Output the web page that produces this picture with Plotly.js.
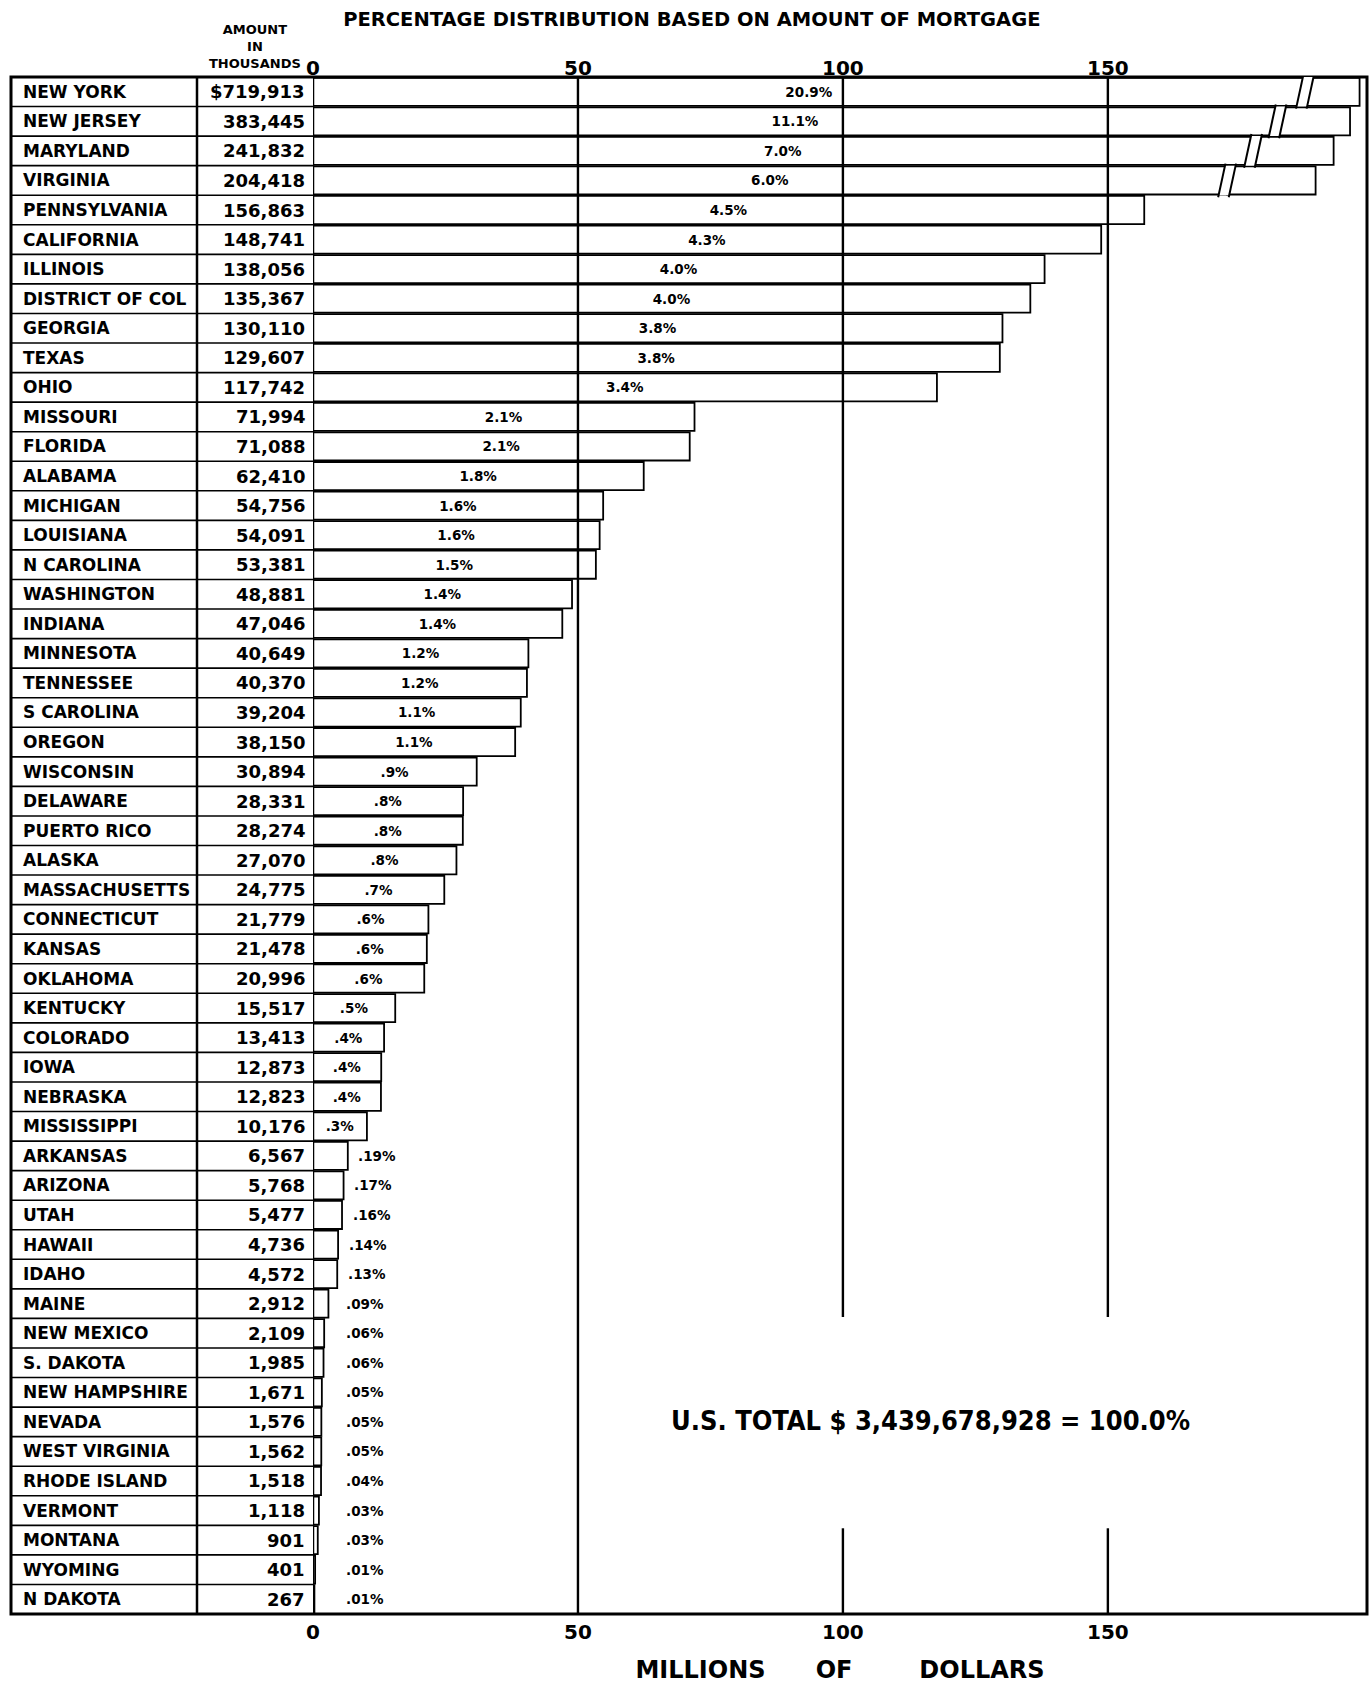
<!DOCTYPE html>
<html><head><meta charset="utf-8">
<script src="https://cdn.plot.ly/plotly-3.0.1.min.js"></script>
<style>html,body{margin:0;padding:0;background:#fff}</style>
</head><body><div id="chart" style="width:1370px;height:1687px"></div>
<script>
// ---------------- DATA ----------------
const states = ["NEW YORK","NEW JERSEY","MARYLAND","VIRGINIA","PENNSYLVANIA","CALIFORNIA","ILLINOIS","DISTRICT OF COL","GEORGIA","TEXAS","OHIO","MISSOURI","FLORIDA","ALABAMA","MICHIGAN","LOUISIANA","N CAROLINA","WASHINGTON","INDIANA","MINNESOTA","TENNESSEE","S CAROLINA","OREGON","WISCONSIN","DELAWARE","PUERTO RICO","ALASKA","MASSACHUSETTS","CONNECTICUT","KANSAS","OKLAHOMA","KENTUCKY","COLORADO","IOWA","NEBRASKA","MISSISSIPPI","ARKANSAS","ARIZONA","UTAH","HAWAII","IDAHO","MAINE","NEW MEXICO","S. DAKOTA","NEW HAMPSHIRE","NEVADA","WEST VIRGINIA","RHODE ISLAND","VERMONT","MONTANA","WYOMING","N DAKOTA"];
const amountsThousands = [719913,383445,241832,204418,156863,148741,138056,135367,130110,129607,117742,71994,71088,62410,54756,54091,53381,48881,47046,40649,40370,39204,38150,30894,28331,28274,27070,24775,21779,21478,20996,15517,13413,12873,12823,10176,6567,5768,5477,4736,4572,2912,2109,1985,1671,1576,1562,1518,1118,901,401,267];
const percentLabels = ["20.9%","11.1%","7.0%","6.0%","4.5%","4.3%","4.0%","4.0%","3.8%","3.8%","3.4%","2.1%","2.1%","1.8%","1.6%","1.6%","1.5%","1.4%","1.4%","1.2%","1.2%","1.1%","1.1%",".9%",".8%",".8%",".8%",".7%",".6%",".6%",".6%",".5%",".4%",".4%",".4%",".3%",".19%",".17%",".16%",".14%",".13%",".09%",".06%",".06%",".05%",".05%",".05%",".04%",".03%",".03%",".01%",".01%"];
const axisTicks = [0, 50, 100, 150];
const chartTitle = "PERCENTAGE DISTRIBUTION BASED ON AMOUNT OF MORTGAGE";
const columnHeader = "AMOUNT<br>IN<br>THOUSANDS";
const axisTitle = "MILLIONS\u00a0\u00a0\u00a0\u00a0\u00a0\u00a0OF\u00a0\u00a0\u00a0\u00a0\u00a0\u00a0\u00a0\u00a0DOLLARS";
const totalText = "U.S. TOTAL $ 3,439,678,928 = 100.0%";

// ------------- LAYOUT CONSTANTS (off-scale bar drawing) -------------
const brokenBreakAt = [186.2, 181.0, 176.4, 171.5];   // where the break marks sit
const brokenDrawEnd = [197.5, 195.7, 192.6, 189.2];   // where the truncated bar is drawn to
const XMAX = 198.9;
const GAP = 2.0, SLANT = 0.6;
const gridGap = [41.45, 48.6];   // 100 and 150 lines interrupted around total text

const FONT = '"DejaVu Sans", "Liberation Sans", sans-serif';
const COND = '"DejaVu Sans Condensed", "Liberation Sans Narrow", "DejaVu Sans", sans-serif';

const n = states.length;
const idx = states.map((_, i) => i);
const millions = amountsThousands.map(v => v / 1000);
const nBroken = brokenBreakAt.length;
const splitAt = brokenBreakAt.map(b => b + GAP / 2);
const segA = millions.map((v, i) => i < nBroken ? splitAt[i] : v);
const isInside = millions.map(v => v > 8);
const insideText = percentLabels.map((t, i) => isInside[i] ? t : '');
const amountText = amountsThousands.map((v, i) => (i === 0 ? '$' : '') + v.toLocaleString('en-US'));

const barLine = {color: '#000', width: 1.8};
const pctFont = {family: FONT, size: 13.5, color: '#000', weight: 700};
const traces = [
  {
    type: 'bar', orientation: 'h', y: idx, x: segA,
    text: insideText, textposition: 'inside', insidetextanchor: 'middle',
    constraintext: 'none', textangle: 0,
    textfont: pctFont,
    marker: {color: '#fff', line: barLine},
    hoverinfo: 'skip', showlegend: false, cliponaxis: false
  },
  {
    type: 'bar', orientation: 'h', y: idx.slice(0, nBroken),
    base: splitAt, x: brokenDrawEnd.map((e, i) => e - splitAt[i]),
    marker: {color: '#fff', line: barLine},
    hoverinfo: 'skip', showlegend: false
  },
  {
    type: 'scatter', mode: 'markers', x: [0], y: [0], xaxis: 'x2', yaxis: 'y',
    marker: {opacity: 0}, hoverinfo: 'skip', showlegend: false
  }
];

// ---------- table geometry (paper units relative to plot area) ----------
const L = 313, PW = 1054;
const px = p => (p - L) / PW;
const xLeft = px(11), xSep = px(197), xNames = px(21), xAmt = px(307);

const shapes = [];
// frame
shapes.push({type: 'rect', xref: 'paper', yref: 'paper', x0: xLeft, x1: 1, y0: 0, y1: 1,
  line: {color: '#000', width: 3}, layer: 'above'});
// table column separators
shapes.push({type: 'line', xref: 'paper', yref: 'paper', x0: xSep, x1: xSep, y0: 0, y1: 1,
  line: {color: '#000', width: 2.5}, layer: 'above'});
shapes.push({type: 'line', xref: 'x', yref: 'paper', x0: 0, x1: 0, y0: 0, y1: 1,
  line: {color: '#000', width: 2.5}, layer: 'above'});
// table row separators
for (let i = 0; i < n - 1; i++) {
  shapes.push({type: 'line', xref: 'paper', yref: 'y', x0: xLeft, x1: 0, y0: i + 0.5, y1: i + 0.5,
    line: {color: '#000', width: 1.6}, layer: 'above'});
}
// break marks on off-scale bars
for (let i = 0; i < nBroken; i++) {
  const b = brokenBreakAt[i];
  shapes.push({type: 'path', xref: 'x', yref: 'y',
    path: `M ${b - SLANT},${i + 0.5} L ${b + SLANT},${i - 0.5} L ${b + GAP + SLANT},${i - 0.5} L ${b + GAP - SLANT},${i + 0.5} Z`,
    fillcolor: '#fff', line: {width: 0}, layer: 'above'});
  [0, GAP].forEach(d => {
    shapes.push({type: 'line', xref: 'x', yref: 'y',
      x0: b + d - SLANT * 1.15, x1: b + d + SLANT * 1.15, y0: i + 0.57, y1: i - 0.57,
      line: {color: '#000', width: 2}, layer: 'above'});
  });
}
// vertical scale lines
axisTicks.filter(t => t > 0).forEach(t => {
  if (t === 50) {
    shapes.push({type: 'line', xref: 'x', yref: 'paper', x0: t, x1: t, y0: 0, y1: 1,
      line: {color: '#000', width: 2.4}, layer: 'above'});
  } else {
    shapes.push({type: 'line', xref: 'x', yref: 'y', x0: t, x1: t, y0: -0.5, y1: gridGap[0],
      line: {color: '#000', width: 2.4}, layer: 'above'});
    shapes.push({type: 'line', xref: 'x', yref: 'y', x0: t, x1: t, y0: gridGap[1], y1: n - 0.5,
      line: {color: '#000', width: 2.4}, layer: 'above'});
  }
});

const annotations = [];
states.forEach((s, i) => {
  annotations.push({xref: 'paper', yref: 'y', x: xNames, y: i, text: s, xanchor: 'left', yanchor: 'middle',
    showarrow: false, font: {family: FONT, size: 17, color: '#000', weight: 700}});
  annotations.push({xref: 'paper', yref: 'y', x: xAmt, y: i, text: amountText[i], xanchor: 'right', yanchor: 'middle',
    showarrow: false, font: {family: FONT, size: 18, color: '#000', weight: 700}});
  if (!isInside[i]) {
    annotations.push({xref: 'x', yref: 'y', x: Math.max(millions[i] + 1.6, 5.8), y: i, text: percentLabels[i],
      xanchor: 'left', yanchor: 'middle', showarrow: false, font: pctFont});
  }
});
annotations.push({xref: 'paper', yref: 'paper', x: px(255), y: 1 + (77 - 46) / 1537, text: columnHeader,
  xanchor: 'center', yanchor: 'middle', align: 'center', showarrow: false,
  font: {family: FONT, size: 13, color: '#000', weight: 700}});
annotations.push({xref: 'paper', yref: 'paper', x: px(930), y: (1614 - 1420) / 1537, text: totalText,
  xanchor: 'center', yanchor: 'middle', showarrow: false,
  font: {family: COND, size: 27, color: '#000', weight: 700}});

const tickFont = {family: FONT, size: 20, color: '#000', weight: 700};
const layout = {
  width: 1370, height: 1687,
  paper_bgcolor: '#fff', plot_bgcolor: '#fff',
  margin: {l: L, r: 3, t: 77, b: 73, autoexpand: false},
  barmode: 'overlay', bargap: 0.05,
  title: {text: chartTitle, x: 0.505, xanchor: 'center', xref: 'container',
    y: 1 - 19 / 1687, yanchor: 'middle', yref: 'container',
    font: {family: FONT, size: 19.5, color: '#000', weight: 700}},
  xaxis: {range: [0, XMAX], tickvals: axisTicks, ticks: '', showgrid: false, zeroline: false,
    showline: false, tickfont: tickFont, ticklabelstandoff: 4, fixedrange: true,
    title: {text: axisTitle, standoff: 18, font: {family: FONT, size: 24, color: '#000', weight: 700}}},
  xaxis2: {range: [0, XMAX], overlaying: 'x', side: 'top', tickvals: axisTicks, ticks: '',
    showgrid: false, zeroline: false, showline: false, tickfont: tickFont, ticklabelstandoff: -3, fixedrange: true},
  yaxis: {range: [n - 0.5, -0.5], showticklabels: false, ticks: '', showgrid: false,
    zeroline: false, showline: false, fixedrange: true},
  shapes: shapes,
  annotations: annotations
};

Plotly.newPlot('chart', traces, layout, {staticPlot: true, displayModeBar: false});
</script>
</body></html>
